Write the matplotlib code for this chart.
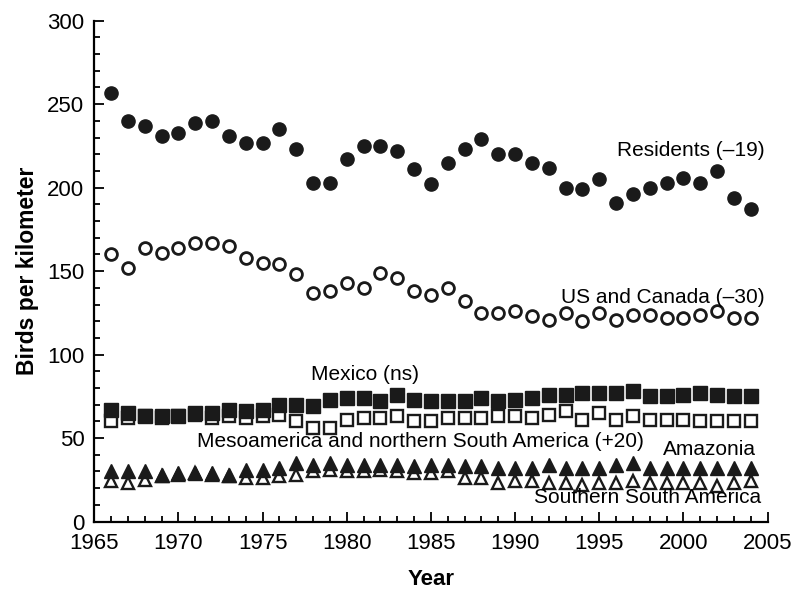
import matplotlib.pyplot as plt
from matplotlib.ticker import MultipleLocator

plt.rcParams['font.family'] = ['Liberation Sans', 'DejaVu Sans']

years = list(range(1966, 2005))

residents = [257, 240, 237, 231, 233, 239, 240, 231, 227, 227, 235, 223, 203, 203,
             217, 225, 225, 222, 211, 202, 215, 223, 229, 220, 220, 215, 212, 200,
             199, 205, 191, 196, 200, 203, 206, 203, 210, 194, 187]

us_canada = [160, 152, 164, 161, 164, 167, 167, 165, 158, 155, 154, 148, 137, 138,
             143, 140, 149, 146, 138, 136, 140, 132, 125, 125, 126, 123, 121, 125,
             120, 125, 121, 124, 124, 122, 122, 124, 126, 122, 122]

mexico = [67, 65, 63, 63, 63, 65, 65, 67, 66, 67, 70, 70, 69, 73,
          74, 74, 72, 76, 73, 72, 72, 72, 74, 72, 73, 74, 76, 76,
          77, 77, 77, 78, 75, 75, 76, 77, 76, 75, 75]

mesoamerica = [60, 62, 63, 62, 63, 64, 62, 63, 62, 63, 64, 60, 56, 56,
               61, 62, 62, 63, 60, 60, 62, 62, 62, 63, 63, 62, 64, 66,
               61, 65, 61, 63, 61, 61, 61, 60, 60, 60, 60]

amazonia = [30, 30, 30, 28, 29, 29, 29, 28, 31, 31, 32, 35, 34, 35,
            34, 34, 34, 34, 33, 34, 34, 33, 33, 32, 32, 32, 34, 32,
            32, 32, 34, 35, 32, 32, 32, 32, 32, 32, 32]

southern = [24, 23, 25, 27, 28, 29, 28, 27, 26, 26, 27, 28, 30, 31,
            30, 30, 31, 30, 29, 29, 30, 26, 26, 23, 24, 24, 23, 23,
            22, 23, 23, 24, 23, 23, 23, 23, 21, 23, 24]

fig = plt.figure(figsize=(7.98, 5.92), dpi=100)
ax = fig.add_axes([0.118, 0.119, 0.844, 0.846])

ms = 9.5
# open markers first, filled ones on top
ax.plot(years, us_canada, 'o', ms=8.5, mfc='white', mec='#1a1a1a', mew=2, zorder=3)
ax.plot(years, residents, 'o', ms=ms, color='#1a1a1a', zorder=4)
ax.plot(years, mesoamerica, 's', ms=8.5, mfc='white', mec='#1a1a1a', mew=1.7, zorder=3)
ax.plot(years, mexico, 's', ms=ms, color='#1a1a1a', zorder=4)
ax.plot(years, southern, '^', ms=9, mfc='white', mec='#1a1a1a', mew=1.7, zorder=3)
ax.plot(years, amazonia, '^', ms=ms, color='#1a1a1a', zorder=4)

fs = 15
ax.text(2004.8, 222, 'Residents (\u201319)', fontsize=fs, ha='right', va='center')
ax.text(2004.8, 134.5, 'US and Canada (\u201330)', fontsize=fs, ha='right', va='center')
ax.text(1977.9, 88, 'Mexico (ns)', fontsize=fs, ha='left', va='center')
ax.text(1971.1, 48, 'Mesoamerica and northern South America (+20)', fontsize=fs,
        ha='left', va='center')
ax.text(2004.3, 43, 'Amazonia', fontsize=fs, ha='right', va='center')
ax.text(2004.6, 14.5, 'Southern South America', fontsize=fs, ha='right', va='center')

ax.set_xlim(1965, 2005)
ax.set_ylim(0, 300)
ax.xaxis.set_major_locator(MultipleLocator(5))
ax.xaxis.set_minor_locator(MultipleLocator(1))
ax.yaxis.set_major_locator(MultipleLocator(50))
ax.yaxis.set_minor_locator(MultipleLocator(10))
ax.tick_params(which='both', direction='in', width=1.3, labelsize=16)
ax.tick_params(which='major', length=7)
ax.tick_params(which='minor', length=4)
ax.tick_params(axis='x', pad=8)
ax.tick_params(axis='y', pad=7)

for side in ['top', 'right']:
    ax.spines[side].set_visible(False)
for side in ['left', 'bottom']:
    ax.spines[side].set_linewidth(1.6)

ax.set_xlabel('Year', fontsize=16, fontweight='bold', labelpad=11)
ax.set_ylabel('Birds per kilometer', fontsize=16.5, fontweight='bold', labelpad=6)

plt.savefig('out.png', dpi=100)
